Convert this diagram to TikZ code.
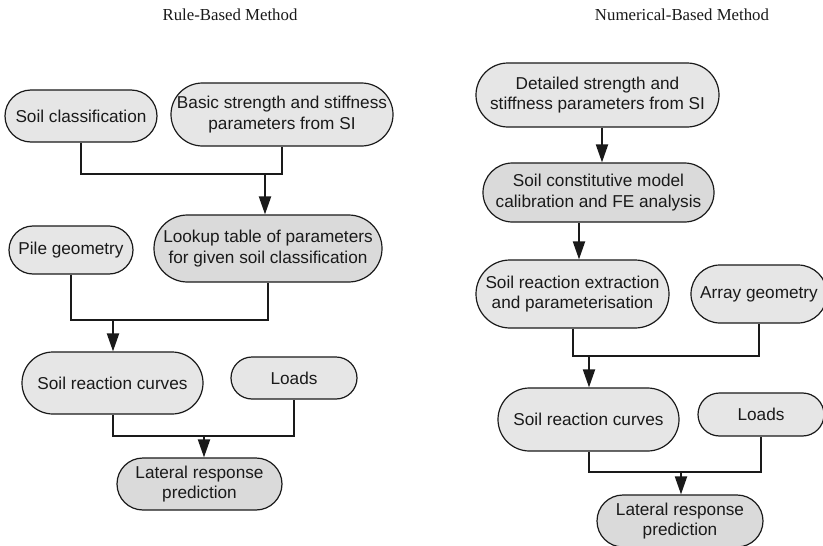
\documentclass[tikz,border=0pt]{standalone}
\usepackage{fontspec}
\setmainfont{Liberation Sans}
\newfontfamily\titlefont{Liberation Serif}
\usetikzlibrary{shapes.misc,arrows.meta}
\definecolor{lightfill}{HTML}{E6E6E6}
\definecolor{darkfill}{HTML}{DADADA}
\definecolor{ink}{HTML}{1A1A1A}
\tikzset{
  box/.style={rounded rectangle, draw=ink, line width=1.2pt, fill=lightfill,
    align=center, inner sep=0pt, text=ink, font=\fontsize{17.2}{20.5}\selectfont},
  darkbox/.style={box, fill=darkfill},
  link/.style={draw=ink, line width=2pt},
  arr/.style={link, -{Triangle[length=18pt,width=12pt]}},
  ttl/.style={font=\titlefont\fontsize{16.8}{20}\selectfont, text=ink, inner sep=0pt}
}
\begin{document}
\begin{tikzpicture}[x={(1pt,0)}, y={(0,-1pt)}]
\useasboundingbox (0,0) rectangle (823,546);
\clip (0,0) rectangle (823,546);
\fill[white] (0,0) rectangle (823,546);

% titles
\node[ttl] (t1) at (230,15) {Rule-Based Method};
\node[ttl] (t2) at (682,15) {Numerical-Based Method};

% ---------- left ----------
\node[box, minimum width=152pt, minimum height=52pt] (sc) at (81,116) {Soil classification};
\node[box, minimum width=222pt, minimum height=63pt] (bs) at (282,114.5) {Basic strength and stiffness\\parameters from SI};
\node[darkbox, minimum width=228pt, minimum height=67pt] (lu) at (268,248.5) {Lookup table of parameters\\for given soil classification};
\node[box, minimum width=124pt, minimum height=48pt] (pg) at (71,250) {Pile geometry};
\node[box, minimum width=181pt, minimum height=62pt] (src) at (112.5,383) {Soil reaction curves};
\node[box, minimum width=126pt, minimum height=42pt] (ld) at (294,378) {Loads};
\node[darkbox, minimum width=165pt, minimum height=52pt] (lat) at (199.5,484) {Lateral response\\prediction};

\coordinate (j1) at (265,174);
\coordinate (j2) at (113,320);
\coordinate (j3) at (204,436);

\draw[link] (sc.south) |- (j1) -| (bs.south);
\draw[arr] (j1) -- (j1 |- lu.north);
\draw[link] (pg.south) |- (j2) -| (lu.south);
\draw[arr] (j2) -- (j2 |- src.north);
\draw[link] (src.south) |- (j3) -| (ld.south);
\draw[arr] (j3) -- (j3 |- lat.north);

% ---------- right ----------
\node[box, minimum width=243pt, minimum height=64pt] (dt) at (597.5,95) {Detailed strength and\\stiffness parameters from SI};
\node[darkbox, minimum width=231pt, minimum height=59pt] (cm) at (598.5,192.5) {Soil constitutive model\\calibration and FE analysis};
\node[box, minimum width=193pt, minimum height=68pt] (sre) at (572.5,294) {Soil reaction extraction\\and parameterisation};
\node[box, minimum width=136pt, minimum height=58pt] (ag) at (759,294) {Array geometry};
\node[box, minimum width=181pt, minimum height=63pt] (src2) at (588.5,419.5) {Soil reaction curves};
\node[box, minimum width=126pt, minimum height=43pt] (ld2) at (761,414.5) {Loads};
\node[darkbox, minimum width=166pt, minimum height=52pt] (lat2) at (680,521) {Lateral response\\prediction};

\coordinate (a1) at (602,0);
\coordinate (a2) at (579,0);
\coordinate (j4) at (589,356);
\coordinate (j5) at (681,472);

\draw[arr] (a1 |- dt.south) -- (a1 |- cm.north);
\draw[arr] (a2 |- cm.south) -- (a2 |- sre.north);
\draw[link] (sre.south) |- (j4) -| (ag.south);
\draw[arr] (j4) -- (j4 |- src2.north);
\draw[link] (src2.south) |- (j5) -| (ld2.south);
\draw[arr] (j5) -- (j5 |- lat2.north);
\end{tikzpicture}
\end{document}
